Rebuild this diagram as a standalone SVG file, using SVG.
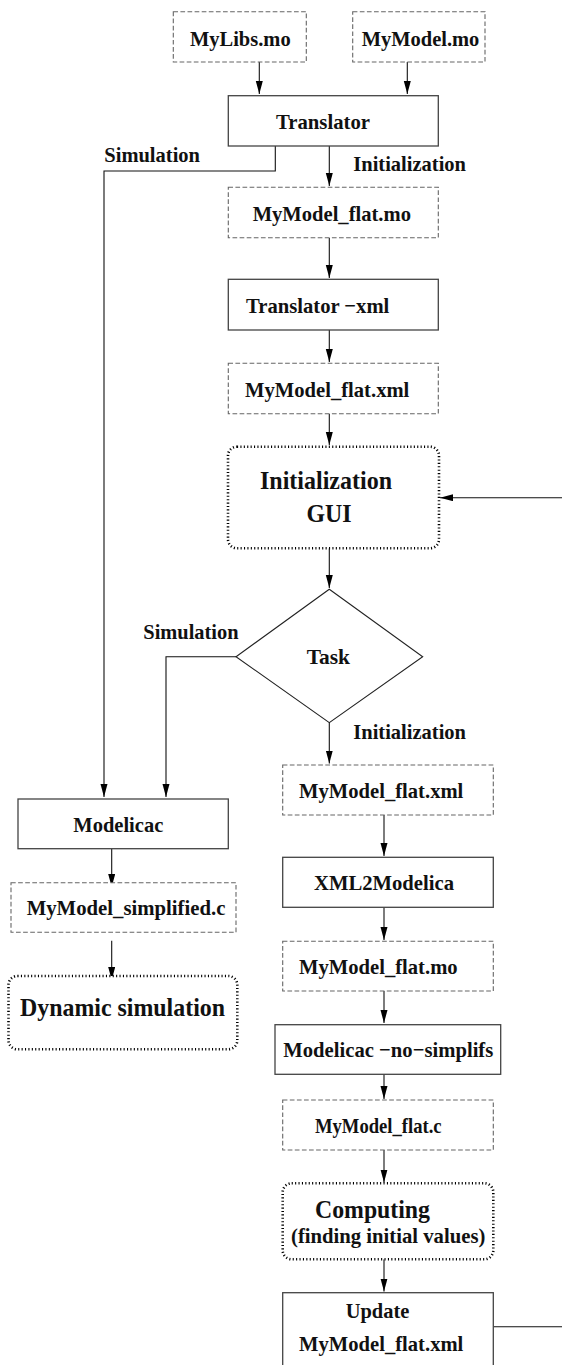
<svg xmlns="http://www.w3.org/2000/svg" width="562" height="1365" viewBox="0 0 562 1365">
<defs>
<marker id="arr" markerUnits="userSpaceOnUse" markerWidth="13" markerHeight="8" refX="13" refY="3.5" orient="auto">
<path d="M0,0 L13,3.5 L0,7 z" fill="#000"/>
</marker>
<style>
rect{fill:#fff}
.solid{stroke:#444;stroke-width:1.3}
.dash{stroke:#666;stroke-width:1.1;stroke-dasharray:4.7,2.4}
.dot{stroke:#000;stroke-width:2.6;stroke-dasharray:1.1,2.3}
text{font-family:"Liberation Serif","Times New Roman",serif;font-weight:bold;fill:#111;text-anchor:middle;font-size:22px}
.big{font-size:26px}
.lbl{text-anchor:start}
.c{fill:none;stroke:#111;stroke-width:1.1}
</style>
</defs>
<g id="connectors">
<line class="c" x1="259.3" y1="62" x2="259.3" y2="94" marker-end="url(#arr)"/>
<line class="c" x1="407.3" y1="62" x2="407.3" y2="94" marker-end="url(#arr)"/>
<polyline class="c" points="275.3,146 275.3,171 104,171 104,797" marker-end="url(#arr)"/>
<line class="c" x1="329.3" y1="146" x2="329.3" y2="186" marker-end="url(#arr)"/>
<line class="c" x1="329.3" y1="237.7" x2="329.3" y2="278" marker-end="url(#arr)"/>
<line class="c" x1="329.3" y1="330" x2="329.3" y2="362" marker-end="url(#arr)"/>
<line class="c" x1="329.3" y1="413.7" x2="329.3" y2="445" marker-end="url(#arr)"/>
<line class="c" x1="562" y1="497.7" x2="440" y2="497.7" marker-end="url(#arr)"/>
<line class="c" x1="329.3" y1="548.3" x2="329.3" y2="588" marker-end="url(#arr)"/>
<polyline class="c" points="236,656.7 166,656.7 166,797" marker-end="url(#arr)"/>
<line class="c" x1="329.3" y1="722.7" x2="329.3" y2="763.5" marker-end="url(#arr)"/>
<line class="c" x1="111.7" y1="848.7" x2="111.7" y2="887" marker-end="url(#arr)"/>
<line class="c" x1="384" y1="815" x2="384" y2="856" marker-end="url(#arr)"/>
<line class="c" x1="111.7" y1="940.7" x2="111.7" y2="980" marker-end="url(#arr)"/>
<line class="c" x1="384" y1="907.3" x2="384" y2="940" marker-end="url(#arr)"/>
<line class="c" x1="384" y1="991" x2="384" y2="1023" marker-end="url(#arr)"/>
<line class="c" x1="384" y1="1074.3" x2="384" y2="1099" marker-end="url(#arr)"/>
<line class="c" x1="384" y1="1150" x2="384" y2="1182.5" marker-end="url(#arr)"/>
<line class="c" x1="384" y1="1259.3" x2="384" y2="1291.5" marker-end="url(#arr)"/>
<line class="c" x1="493.3" y1="1326.7" x2="562" y2="1326.7"/>
<text class="lbl" x="104.3" y="162.3" textLength="95.7" lengthAdjust="spacingAndGlyphs">Simulation</text>
<text class="lbl" x="353.3" y="170.7" textLength="112.7" lengthAdjust="spacingAndGlyphs">Initialization</text>
<text class="lbl" x="143.3" y="639.3" textLength="95.3" lengthAdjust="spacingAndGlyphs">Simulation</text>
<text class="lbl" x="353.3" y="739.3" textLength="112.7" lengthAdjust="spacingAndGlyphs">Initialization</text>
</g>
<g id="mylibs">
<rect class="dash" x="173.3" y="11.7" width="133" height="50.3"/>
<text x="240.3" y="45.7" textLength="100.7" lengthAdjust="spacingAndGlyphs">MyLibs.mo</text>
</g>
<g id="mymodel">
<rect class="dash" x="352.7" y="11.7" width="132.3" height="50.3"/>
<text x="420.5" y="45.7" textLength="117.7" lengthAdjust="spacingAndGlyphs">MyModel.mo</text>
</g>
<g id="translator">
<rect class="solid" x="228.3" y="95.7" width="210" height="50.3"/>
<text x="323" y="129" textLength="94" lengthAdjust="spacingAndGlyphs">Translator</text>
</g>
<g id="flatmo1">
<rect class="dash" x="228.3" y="187.3" width="210" height="50.4"/>
<text x="331.8" y="220.7" textLength="158.3" lengthAdjust="spacingAndGlyphs">MyModel_flat.mo</text>
</g>
<g id="translatorxml">
<rect class="solid" x="228.3" y="279.3" width="210" height="50.7"/>
<text x="317.7" y="313.3" textLength="143.3" lengthAdjust="spacingAndGlyphs">Translator −xml</text>
</g>
<g id="flatxml1">
<rect class="dash" x="228.3" y="363.3" width="210" height="50.4"/>
<text x="327.2" y="396.7" textLength="164.3" lengthAdjust="spacingAndGlyphs">MyModel_flat.xml</text>
</g>
<g id="initgui">
<rect class="dot" x="228" y="446.7" width="211" height="101.6" rx="9"/>
<text class="big" x="326" y="489" textLength="132" lengthAdjust="spacingAndGlyphs">Initialization</text>
<text class="big" x="329" y="522.3" textLength="45" lengthAdjust="spacingAndGlyphs">GUI</text>
</g>
<g id="task">
<polygon points="329.3,589.3 422.7,656.7 329.3,722.7 236,656.7" fill="#fff" stroke="#222" stroke-width="1.1"/>
<text x="328.3" y="664.3" textLength="43.3" lengthAdjust="spacingAndGlyphs">Task</text>
</g>
<g id="modelicac">
<rect class="solid" x="18" y="799" width="210.3" height="49.7"/>
<text x="118.3" y="831.7" textLength="90" lengthAdjust="spacingAndGlyphs">Modelicac</text>
</g>
<g id="simplified">
<rect class="dash" x="11" y="882.7" width="225" height="49.6"/>
<text x="126" y="915" textLength="198.7" lengthAdjust="spacingAndGlyphs">MyModel_simplified.c</text>
</g>
<g id="dynsim">
<rect class="dot" x="8.5" y="976" width="228.8" height="73.3" rx="9"/>
<text class="big" x="122.5" y="1016" textLength="205" lengthAdjust="spacingAndGlyphs">Dynamic simulation</text>
</g>
<g id="flatxml2">
<rect class="dash" x="282.7" y="765" width="210.6" height="50"/>
<text x="381.2" y="798.3" textLength="164.3" lengthAdjust="spacingAndGlyphs">MyModel_flat.xml</text>
</g>
<g id="xml2modelica">
<rect class="solid" x="282.7" y="857.3" width="210.6" height="50"/>
<text x="384" y="890" textLength="140" lengthAdjust="spacingAndGlyphs">XML2Modelica</text>
</g>
<g id="flatmo2">
<rect class="dash" x="282.7" y="941.3" width="210.6" height="49.7"/>
<text x="378.3" y="974" textLength="158.7" lengthAdjust="spacingAndGlyphs">MyModel_flat.mo</text>
</g>
<g id="nosimplifs">
<rect class="solid" x="275" y="1024.7" width="225.7" height="49.6"/>
<text x="388.3" y="1057.3" textLength="210" lengthAdjust="spacingAndGlyphs">Modelicac −no−simplifs</text>
</g>
<g id="flatc">
<rect class="dash" x="282.7" y="1100" width="210.6" height="50"/>
<text x="378.3" y="1133.3" textLength="126.7" lengthAdjust="spacingAndGlyphs">MyModel_flat.c</text>
</g>
<g id="computing">
<rect class="dot" x="282.7" y="1183.3" width="210.6" height="76" rx="9"/>
<text class="big" x="372.5" y="1217.7" textLength="115" lengthAdjust="spacingAndGlyphs">Computing</text>
<text x="388.2" y="1242.7" textLength="194.3" lengthAdjust="spacingAndGlyphs">(finding initial values)</text>
</g>
<g id="update">
<rect class="solid" x="282.7" y="1292.7" width="210.6" height="90"/>
<text x="377.5" y="1317.7" textLength="63.7" lengthAdjust="spacingAndGlyphs">Update</text>
<text x="381.2" y="1351" textLength="164.3" lengthAdjust="spacingAndGlyphs">MyModel_flat.xml</text>
</g>
</svg>
